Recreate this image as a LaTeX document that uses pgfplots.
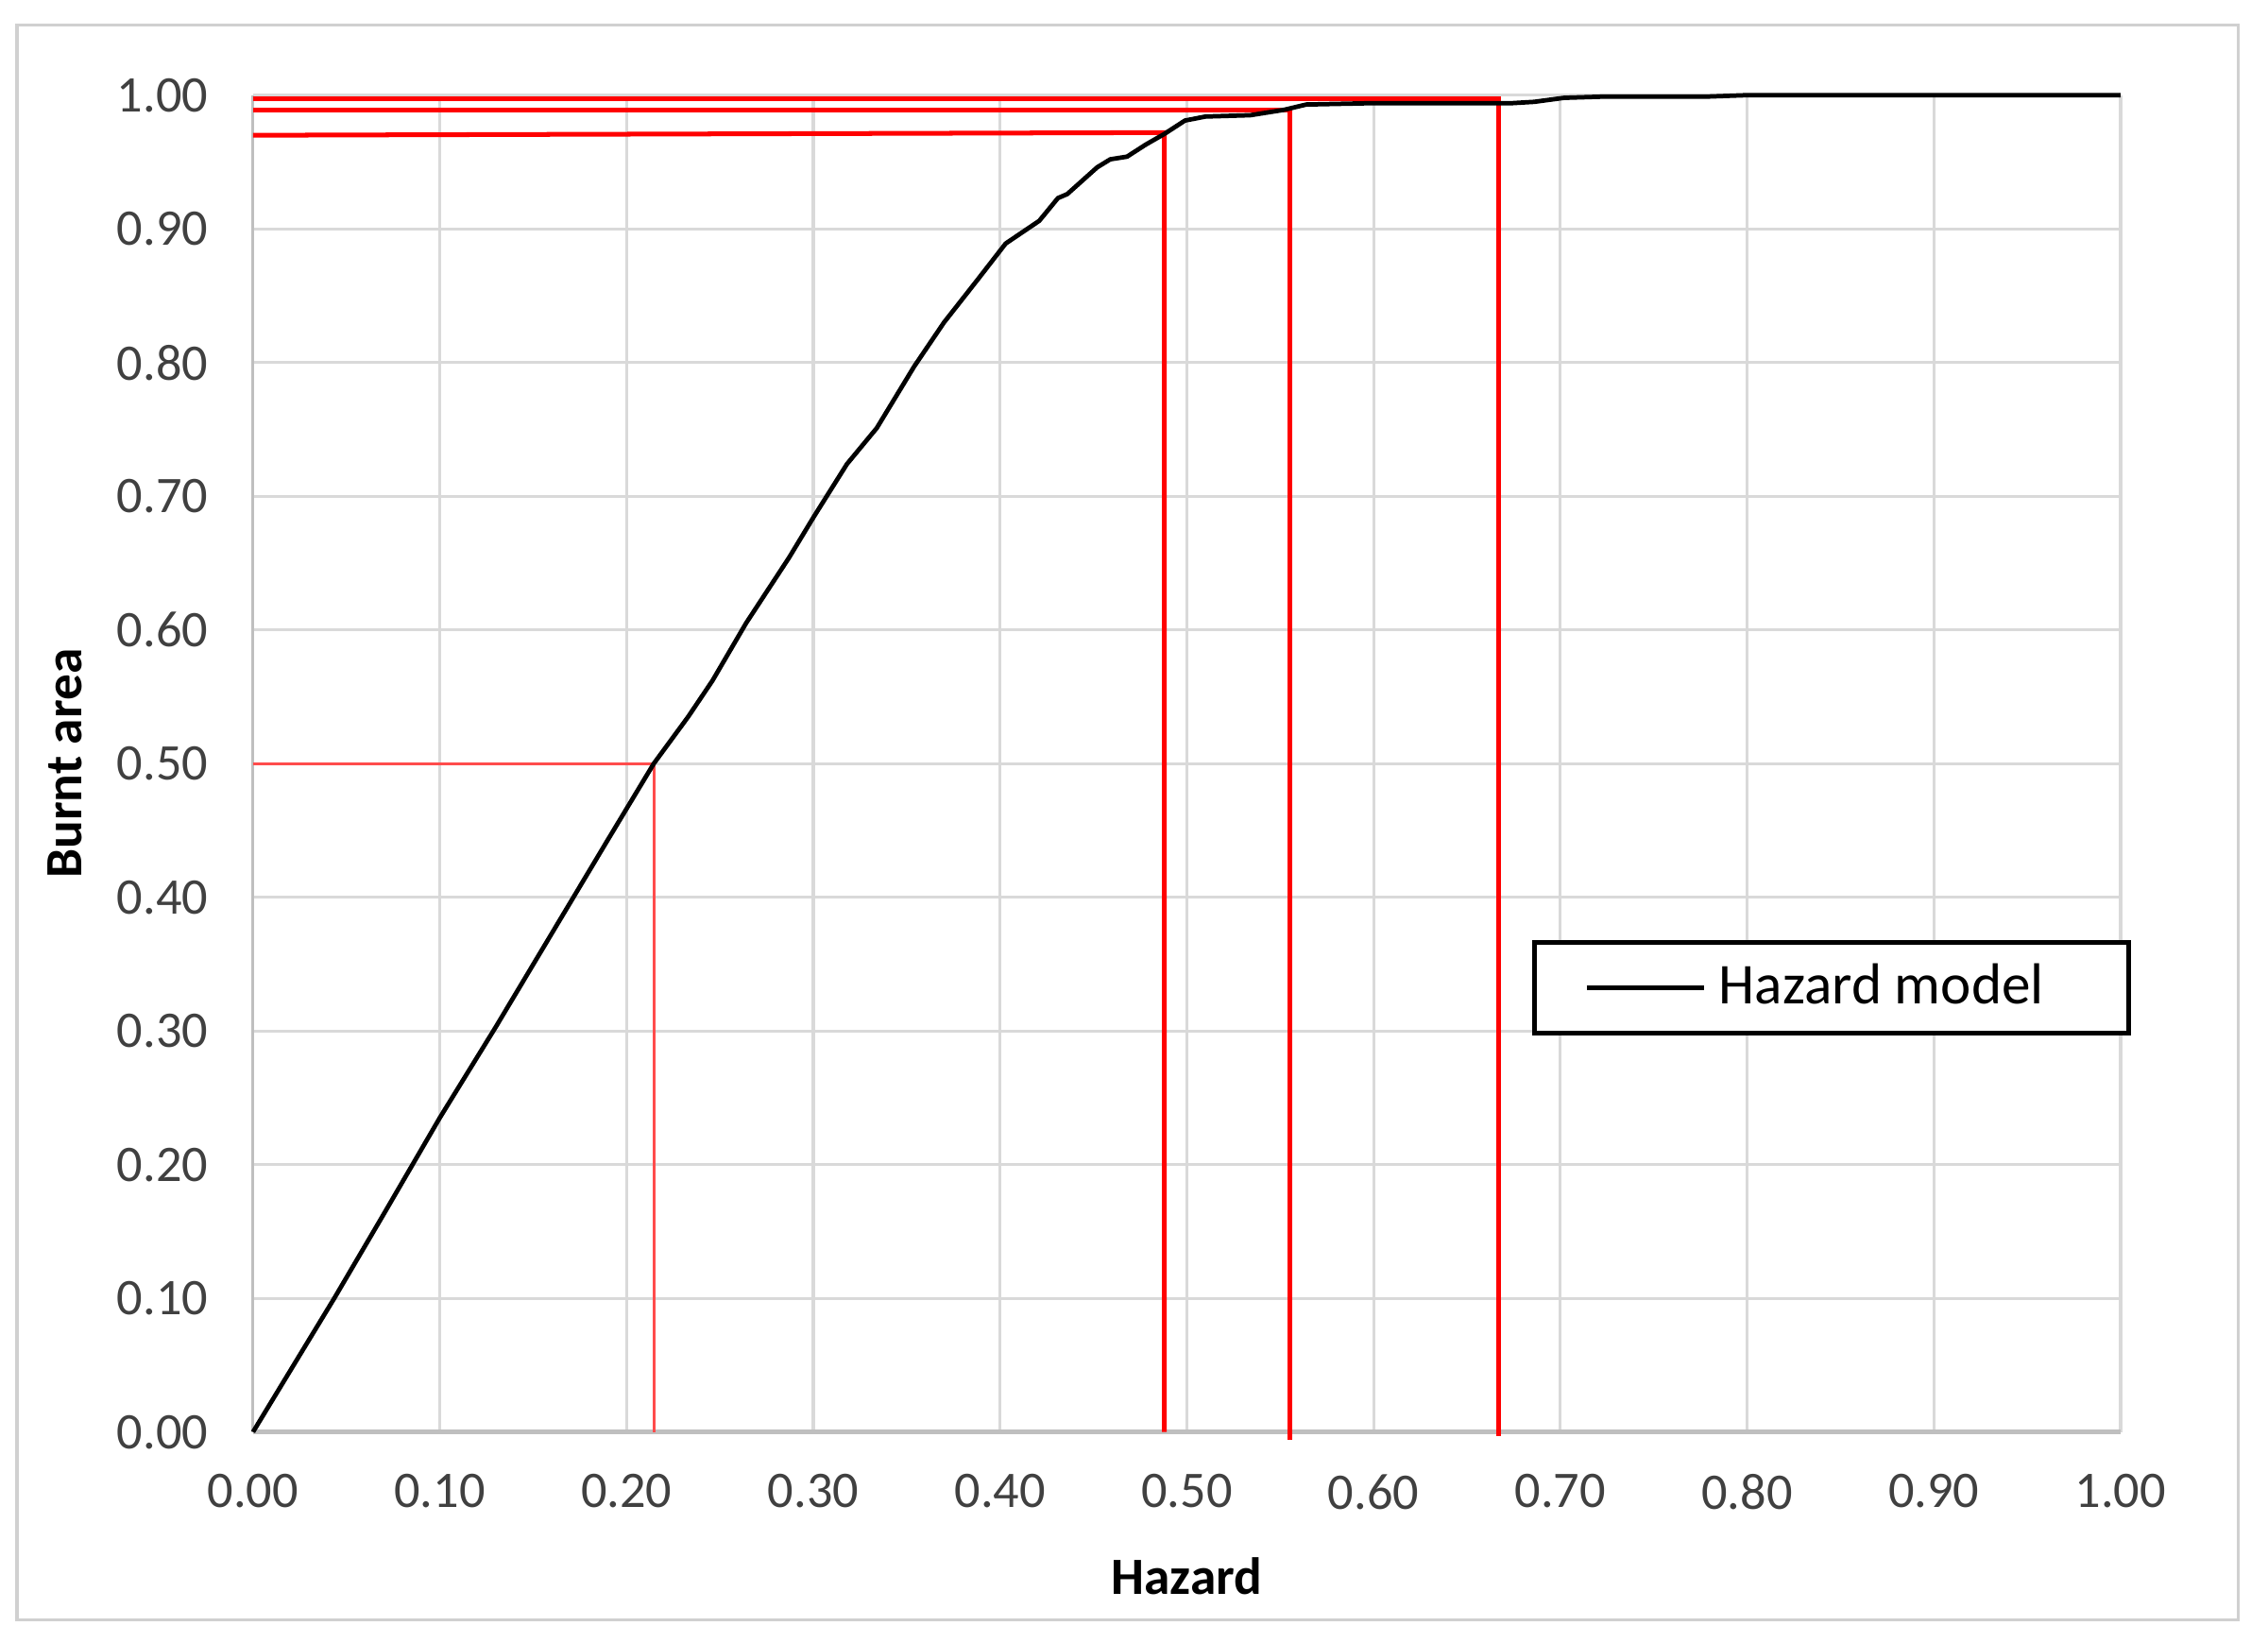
\documentclass[border=0pt]{standalone}
\usepackage{fontspec}
\setmainfont{Carlito}
\usepackage{pgfplots}
\pgfplotsset{compat=1.18}
\definecolor{gridgray}{HTML}{D9D9D9}
\definecolor{axgray}{HTML}{BFBFBF}
\definecolor{ticktext}{HTML}{404040}
\definecolor{framegray}{HTML}{D0D0D0}

\begin{document}
\begin{tikzpicture}
\begin{axis}[
  name=ax,
  scale only axis,
  width=374.9pt, height=268.3pt,
  xmin=0, xmax=1, ymin=0, ymax=1,
  xtick={0,0.1,0.2,0.3,0.4,0.5,0.6,0.7,0.8,0.9,1},
  ytick={0,0.1,0.2,0.3,0.4,0.5,0.6,0.7,0.8,0.9,1},
  grid=major,
  major grid style={draw=gridgray, line width=0.6pt},
  major tick length=0pt,
  axis line style={draw=axgray, line width=0.6pt},
  x axis line style={line width=0.9pt},
  separate axis lines,
  axis x line*=bottom, axis y line*=left,
  /pgf/number format/.cd, fixed, fixed zerofill, precision=2, assume math mode=true,
  /pgfplots/.cd,
  tick label style={font=\fontsize{10.3}{12.4}\selectfont, text=ticktext},
  yticklabel style={xshift=-5.5pt},
  xticklabel style={yshift=-5pt},
  xlabel={\textbf{Hazard}},
  ylabel={\textbf{Burnt area}},
  label style={font=\fontsize{10.5}{12.6}\selectfont},
  xlabel style={at={(axis description cs:0.5,0)}, anchor=center, yshift=-29pt},
  ylabel style={at={(axis description cs:0,0.5)}, anchor=center, yshift=37.7pt},
  legend style={at={(1.0056,0.368)}, anchor=north east, draw=black, line width=1pt,
    font=\fontsize{11.6}{14}\selectfont, inner xsep=10pt, inner ysep=2.3pt,
    nodes={inner xsep=2.5pt}},
  legend image code/.code={\draw[#1, line width=1pt] (0pt,0pt) -- (23.5pt,0pt);},
  legend cell align=left,
  clip=false,
]
% reference lines
\addplot[forget plot, draw=red!70, line width=0.55pt] coordinates {(0,0.500) (0.2146,0.500) (0.2146,0)};
\addplot[forget plot, draw=red, line width=0.95pt] coordinates {(0,0.970) (0.488,0.972) (0.488,0)};
\addplot[forget plot, draw=red, line width=0.95pt] coordinates {(0,0.989) (0.555,0.989) (0.555,-0.006)};
\addplot[forget plot, draw=red, line width=0.95pt] coordinates {(0,0.997) (0.667,0.997) (0.667,-0.003)};
% hazard curve
\addplot[draw=black, line width=0.9pt] coordinates {
 (0,0) (0.020,0.046) (0.0435,0.100) (0.070,0.163) (0.100,0.235) (0.130,0.303)
 (0.160,0.373) (0.190,0.443) (0.2146,0.500) (0.233,0.535) (0.246,0.562)
 (0.264,0.605) (0.287,0.654) (0.300,0.684) (0.318,0.724) (0.334,0.751)
 (0.354,0.797) (0.370,0.830) (0.388,0.862) (0.403,0.889) (0.421,0.906)
 (0.431,0.923) (0.436,0.926) (0.452,0.946) (0.459,0.952) (0.468,0.954)
 (0.478,0.963) (0.488,0.971) (0.499,0.981) (0.510,0.984) (0.534,0.985)
 (0.552,0.989) (0.564,0.993) (0.599,0.994) (0.674,0.994) (0.686,0.995)
 (0.702,0.998) (0.725,0.999) (0.780,0.999) (0.800,1.000) (1.000,1.000)
};
\addlegendentry{Hazard model\kern 4.5pt}
\end{axis}
\draw[framegray, line width=0.6pt] ([shift={(-47.4pt,-37.7pt)}]ax.south west) rectangle ([shift={(23.7pt,14.0pt)}]ax.north east);
\useasboundingbox ([shift={(-50.8pt,-42.3pt)}]ax.south west) rectangle ([shift={(29.6pt,19.1pt)}]ax.north east);
\end{tikzpicture}
\end{document}
